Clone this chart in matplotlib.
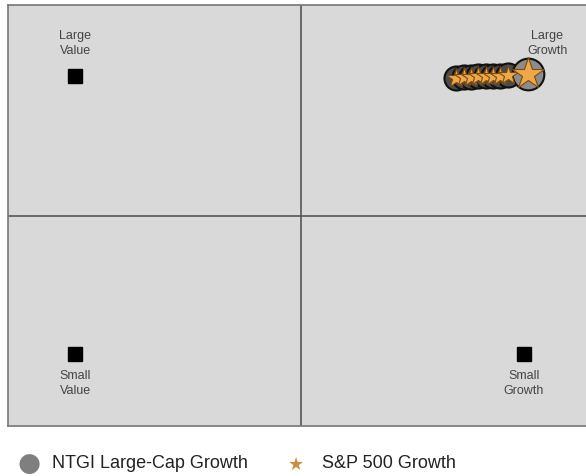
import matplotlib.pyplot as plt

plt.rcParams['font.family'] = ['Liberation Sans', 'DejaVu Sans']

# style box corners
box_labels = ['Large\nValue', 'Large\nGrowth', 'Small\nValue', 'Small\nGrowth']
box_x = [-0.77, 0.76, -0.77, 0.76]
box_y = [0.665, 0.665, -0.66, -0.66]
label_dx = [0.0, 0.08, 0.0, 0.0]

# fund trail (oldest -> latest) and benchmark
fund_x = [0.53, 0.555, 0.58, 0.605, 0.63, 0.655, 0.68, 0.705, 0.775]
fund_y = [0.655, 0.658, 0.66, 0.662, 0.663, 0.664, 0.665, 0.666, 0.670]
bench_x = [0.53, 0.555, 0.58, 0.605, 0.63, 0.655, 0.68, 0.705, 0.775]
bench_y = [0.655, 0.658, 0.66, 0.662, 0.663, 0.664, 0.665, 0.666, 0.670]

fig = plt.figure(figsize=(5.86, 4.76), dpi=100)
ax = fig.add_axes([8/586, 50/476, 586/586, 421/476])
ax.set_facecolor('#d9d9d9')
ax.set_xlim(-1, 1)
ax.set_ylim(-1, 1)
ax.set_xticks([])
ax.set_yticks([])
for s in ax.spines.values():
    s.set_color('#777777')
    s.set_linewidth(1.2)
ax.axvline(0, color='#555555', lw=1.2)
ax.axhline(0, color='#555555', lw=1.2)

for i, lab in enumerate(box_labels):
    ax.plot(box_x[i], box_y[i], 's', color='black', ms=10, zorder=2)
    if box_y[i] > 0:
        ax.text(box_x[i] + label_dx[i], box_y[i] + 0.09, lab, ha='center',
                va='bottom', fontsize=9, color='#444444', linespacing=1.3)
    else:
        ax.text(box_x[i] + label_dx[i], box_y[i] - 0.075, lab, ha='center',
                va='top', fontsize=9, color='#444444', linespacing=1.35)

n = len(fund_x)
for i in range(n):
    last = i == n - 1
    ax.scatter(fund_x[i], fund_y[i], s=520 if last else 300,
               color='#8c8c8c' if last else '#4a4a4a',
               edgecolor='#111111', linewidth=1.5, zorder=3 + i)
for i in range(n):
    last = i == n - 1
    ax.plot(bench_x[i], bench_y[i], '*', ms=24 if last else 15,
            color='#eea848', mec='#7a4a10', mew=0.8, zorder=20 + i)

# legend
fig.text(29/586, 1 - 464/476, '\u25CF', color='#7f7f7f', fontsize=19,
         ha='center', va='center', family='DejaVu Sans')
fig.text(52/586, 1 - 464/476, 'NTGI Large-Cap Growth', fontsize=13,
         color='#222222', va='center')
fig.text(296/586, 1 - 465/476, '\u2605', color='#c8903a', fontsize=13,
         ha='center', va='center', family='DejaVu Sans')
fig.text(322/586, 1 - 464/476, 'S&P 500 Growth', fontsize=13,
         color='#222222', va='center')

fig.savefig('out.png', dpi=100)
